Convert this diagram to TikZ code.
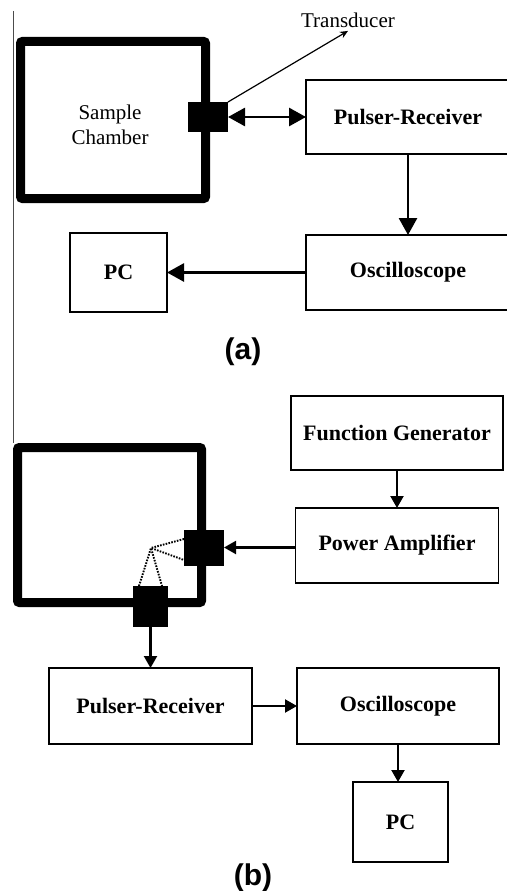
\documentclass[tikz,border=0pt]{standalone}
\usepackage{fontspec}
\setmainfont{Liberation Serif}
\setsansfont{Liberation Sans}
\usetikzlibrary{arrows.meta, positioning, calc}
\tikzset{
  unit/.style={rectangle, draw=black, line width=1.8pt, fill=white,
    inner sep=0pt, outer sep=0pt, text centered,
    font=\fontsize{22}{24}\selectfont\bfseries},
  chamber/.style={draw=black, line width=9pt, rounded corners=2pt},
  probe/.style={rectangle, fill=black, inner sep=0pt, outer sep=0pt},
  plain/.style={font=\fontsize{21}{25}\selectfont, align=center},
  bigarr/.style={-{Triangle[length=17pt,width=18pt]}, line width=2.8pt},
  twoway/.style={{Triangle[length=17pt,width=18pt]}-{Triangle[length=17pt,width=18pt]}, line width=2.8pt},
  smallarr/.style={-{Triangle[length=12pt,width=13pt]}, line width=2.1pt},
  beam/.style={line width=1.9pt, dash pattern=on 1.6pt off 1.3pt},
  caption/.style={font=\sffamily\bfseries\fontsize{30}{32}\selectfont},
}

\begin{document}
\begin{tikzpicture}[x=1pt, y=-1pt]
\useasboundingbox (0,0) rectangle (506,891);

% (a) one transducer
\draw[black!70, line width=0.9pt] (13,11) -- (13,443);
\draw[chamber] (20.5,41.5) rectangle (205.5,198.5);
\node (samp) [plain] at (110,125) {Sample\\Chamber};
\node (xa) [probe, minimum width=40pt, minimum height=30pt] at (208,117) {};
\node (xlab) [plain] at (348,20) {Transducer};

\node (pra) [unit, minimum width=204pt, minimum height=74pt] at (408,117)
  {Pulser-Receiver};
\node (osca) [unit, minimum width=204pt, minimum height=75pt, below=81pt of pra]
  {Oscilloscope};
\node (pca) [unit, minimum width=97pt, minimum height=79pt, left=139pt of osca]
  {PC};

\draw[-{Stealth[length=8pt,width=7pt]}, line width=1.2pt] (xa.north east) -- (xlab.south);
\draw[twoway] (xa.east) -- (pra.west);
\draw[bigarr] (pra) -- (osca);
\draw[bigarr] (osca.west) -- (osca.west -| pca.east);

\node (capa) [caption] at (243,352) {(a)};

% (b) two transducers
\node (fgen) [unit, minimum width=212pt, minimum height=74pt] at (397,433)
  {Function Generator};
\node (pamp) [unit, minimum width=203pt, minimum height=75pt, below=38pt of fgen]
  {Power Amplifier};

\draw[chamber] (17.5,447.5) rectangle (201.5,602.5);
\node (xb) [probe, minimum width=40pt, minimum height=36pt] at (204,547.5) {};
\node (xc) [probe, minimum width=35pt, minimum height=41pt] at (150.5,606.5) {};
\coordinate (focus) at (151,548);
\draw[beam] ($(xb.west)+(0,-8.5)$) -- (focus) -- ($(xb.west)+(0,12.5)$);
\draw[beam] ($(xc.north)+(-11.5,0)$) -- (focus) -- ($(xc.north)+(11.5,0)$);

\node (prb) [unit, minimum width=203pt, minimum height=76pt] at (150.5,706)
  {Pulser-Receiver};
\node (oscb) [unit, minimum width=202pt, minimum height=76pt, right=45pt of prb]
  {Oscilloscope};
\node (pcb) [unit, minimum width=95pt, minimum height=80pt, below=38pt of oscb, xshift=2.5pt]
  {PC};

\draw[smallarr] (fgen) -- (pamp);
\draw[smallarr] (pamp.west |- xb.east) -- (xb.east);
\draw[smallarr] (xc.south) -- (prb.north);
\draw[smallarr] (prb) -- (oscb);
\draw[smallarr] (oscb.south) -- (oscb.south |- pcb.north);

\node (capb) [caption] at (253,878) {(b)};

\end{tikzpicture}
\end{document}
